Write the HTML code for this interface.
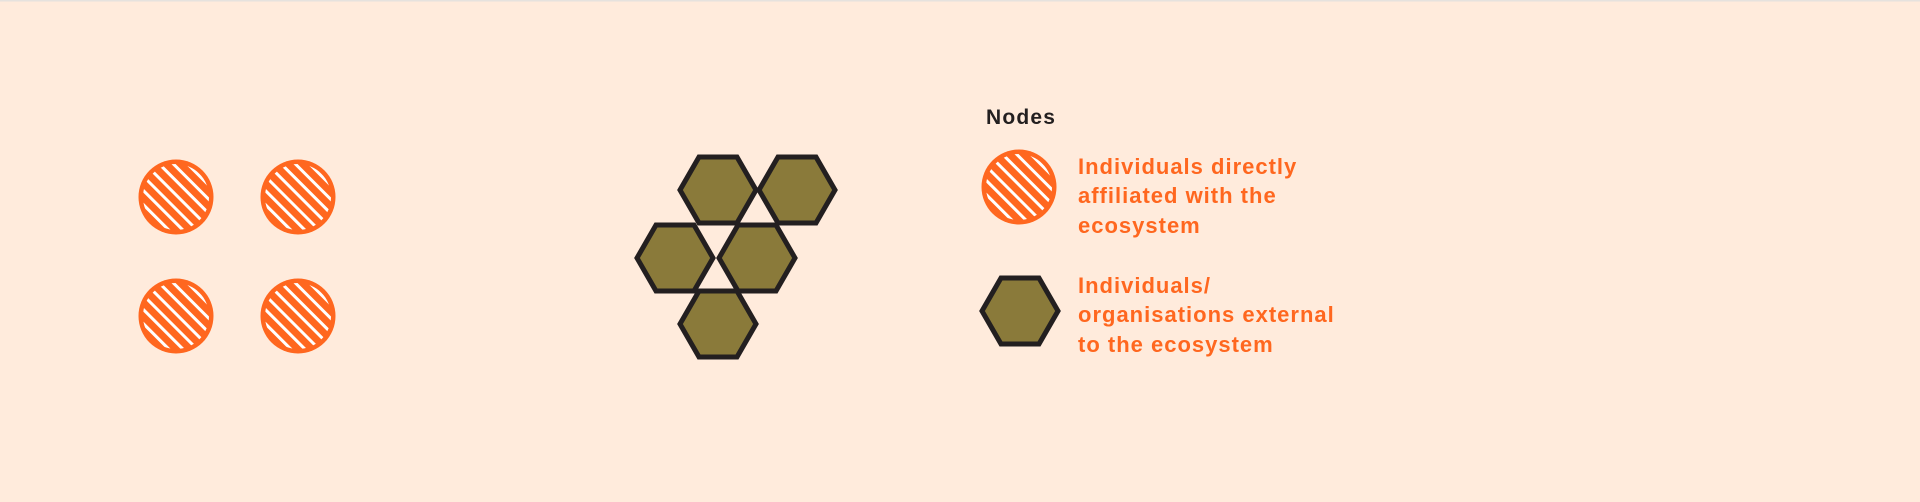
<!DOCTYPE html>
<html><head><style>
html,body{margin:0;padding:0;background:#FFEBDC;}
svg{display:block}
text{font-family:"Liberation Sans",sans-serif;font-weight:bold;}
</style></head><body>
<svg width="1920" height="502" viewBox="0 0 1920 502" xmlns="http://www.w3.org/2000/svg">
<defs>
<pattern id="st" patternUnits="userSpaceOnUse" width="10" height="10" patternTransform="rotate(-45)">
<rect width="10" height="10" fill="#FF671F"/>
<rect x="0" y="0" width="3" height="10" fill="#fff"/>
</pattern>
<g id="circ">
<circle r="37.5" fill="#FF671F"/>
<circle r="33" fill="url(#st)"/>
</g>
<polygon id="hx" points="-38,0 -19,-33 19,-33 38,0 19,33 -19,33" fill="#8A7A3A" stroke="#231F20" stroke-width="5" stroke-linejoin="miter"/>
</defs>
<rect width="1920" height="502" fill="#FFEBDC"/>
<rect x="0" y="0" width="1920" height="1.5" fill="#e6e2de"/>
<use href="#circ" x="176" y="197"/>
<use href="#circ" x="298" y="197"/>
<use href="#circ" x="176" y="316"/>
<use href="#circ" x="298" y="316"/>
<use href="#hx" x="718" y="190"/>
<use href="#hx" x="797" y="190"/>
<use href="#hx" x="675" y="258"/>
<use href="#hx" x="757" y="258"/>
<use href="#hx" x="718" y="324"/>
<text x="986" y="124" font-size="21" fill="#231F20" letter-spacing="1.2">Nodes</text>
<use href="#circ" x="1019" y="187"/>
<use href="#hx" x="1020" y="311"/>
<g font-size="22" fill="#FF671F" letter-spacing="1">
<text x="1078" y="174">Individuals directly</text>
<text x="1078" y="203">affiliated with the</text>
<text x="1078" y="233">ecosystem</text>
<text x="1078" y="293">Individuals/</text>
<text x="1078" y="322">organisations external</text>
<text x="1078" y="352">to the ecosystem</text>
</g>
</svg>
</body></html>
